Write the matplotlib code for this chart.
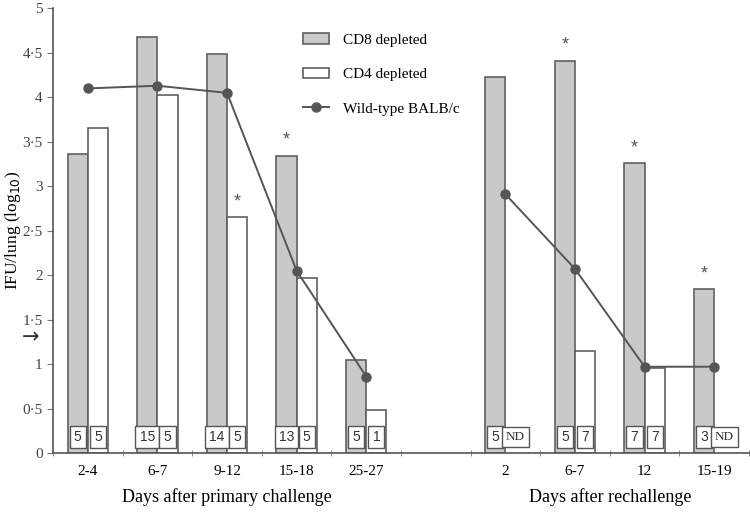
import numpy as np
import matplotlib.pyplot as plt
from matplotlib.patches import Patch
from matplotlib.lines import Line2D

# categories (empty slot separates the two experiments)
days = ['2-4', '6-7', '9-12', '15-18', '25-27', '', '2', '6-7', '12', '15-19']
group_labels = ['Days after primary challenge', 'Days after rechallenge']

# log10 IFU/lung, NaN = no bar / not determined
cd8 = [3.36, 4.68, 4.49, 3.34, 1.05, np.nan, 4.23, 4.41, 3.26, 1.84]
cd4 = [3.66, 4.03, 2.65, 1.97, 0.48, np.nan, np.nan, 1.15, 0.96, np.nan]
wild_primary = [4.10, 4.13, 4.05, 2.05, 0.86]
wild_rechal = [2.91, 2.07, 0.97, 0.97]

# animals per group, shown in boxes
n_cd8 = ['5', '15', '14', '13', '5', '', '5', '5', '7', '3']
n_cd4 = ['5', '5', '5', '5', '1', '', 'ND', '7', '7', 'ND']

# significance marks: (category index, series)
stars = [(3, 'cd8'), (2, 'cd4'), (7, 'cd8'), (8, 'cd8'), (9, 'cd8')]

serif = 'Liberation Serif'
sans = 'Liberation Sans'
plt.rcParams['font.family'] = serif

fig = plt.figure(figsize=(7.5, 5.14), dpi=100)
ax = fig.add_axes([0.0707, 0.1187, 0.928, 0.865])

x = np.arange(len(days))
w = 0.29
edge = '#606060'

ax.bar(x - w / 2, cd8, w, color='#c9c9c9', edgecolor=edge, linewidth=1.2)
ax.bar(x + w / 2, cd4, w, color='white', edgecolor=edge, linewidth=1.2)

ax.plot(x[:5], wild_primary, color='#555555', lw=1.4, marker='o', ms=6.5)
ax.plot(x[6:], wild_rechal, color='#555555', lw=1.4, marker='o', ms=6.5)

box = dict(boxstyle='square,pad=0.3', fc='white', ec='#555555', lw=1)
for i in x:
    if n_cd8[i]:
        ax.text(i - w / 2, 0.18, n_cd8[i], ha='center', va='center',
                fontsize=10, family=sans, color='#333333', bbox=box)
    if n_cd4[i]:
        ax.text(i + w / 2, 0.18, n_cd4[i], ha='center', va='center',
                fontsize=9.5 if n_cd4[i] == 'ND' else 10,
                family=serif if n_cd4[i] == 'ND' else sans,
                color='#333333', bbox=box)

for i, s in stars:
    xs = i - w / 2 if s == 'cd8' else i + w / 2
    ys = cd8[i] if s == 'cd8' else cd4[i]
    ax.text(xs, ys + 0.08, '*', ha='center', va='bottom', fontsize=13,
            color='#555555', family=sans)

ax.set_xlim(-0.5, 9.5)
ax.set_ylim(0, 5)
ax.set_yticks(np.arange(0, 5.01, 0.5))
ax.set_yticklabels([('%g' % v).replace('.', '\u00b7') for v in np.arange(0, 5.01, 0.5)])
ax.set_xticks(x)
ax.set_xticklabels(days)
ax.set_xticks(np.arange(-0.5, 10, 1), minor=True)
ax.tick_params(axis='x', which='major', length=0, pad=9, labelsize=11)
ax.tick_params(axis='x', which='minor', length=5, direction='inout', color='#777777')
ax.tick_params(axis='y', length=4, color='#777777', labelsize=11, labelcolor='#444444')
for s in ['top', 'right']:
    ax.spines[s].set_visible(False)
for s in ['left', 'bottom']:
    ax.spines[s].set_color('#555555')
    ax.spines[s].set_linewidth(1.2)

ax.set_ylabel('IFU/lung (log$_{10}$)', fontsize=12.5)
ax.yaxis.set_label_coords(-0.043, 0.5)
ax.text(2, -0.5, group_labels[0], ha='center', va='center', fontsize=13)
ax.text(7.5, -0.5, group_labels[1], ha='center', va='center', fontsize=13)
ax.text(-0.83, 1.3, '\u2192', ha='center', va='center', fontsize=15,
        family='DejaVu Sans', color='#333333', clip_on=False)

handles = [Patch(fc='#c9c9c9', ec=edge, lw=1.2),
           Patch(fc='white', ec=edge, lw=1.2),
           Line2D([], [], color='#555555', lw=1.4, marker='o', ms=6.5)]
ax.legend(handles, ['CD8 depleted', 'CD4 depleted', 'Wild-type BALB/c'],
          loc='upper left', bbox_to_anchor=(0.34, 0.975), frameon=False,
          fontsize=11, labelspacing=1.35, handlelength=1.7, handletextpad=0.9)

fig.savefig('out.png', dpi=100)
